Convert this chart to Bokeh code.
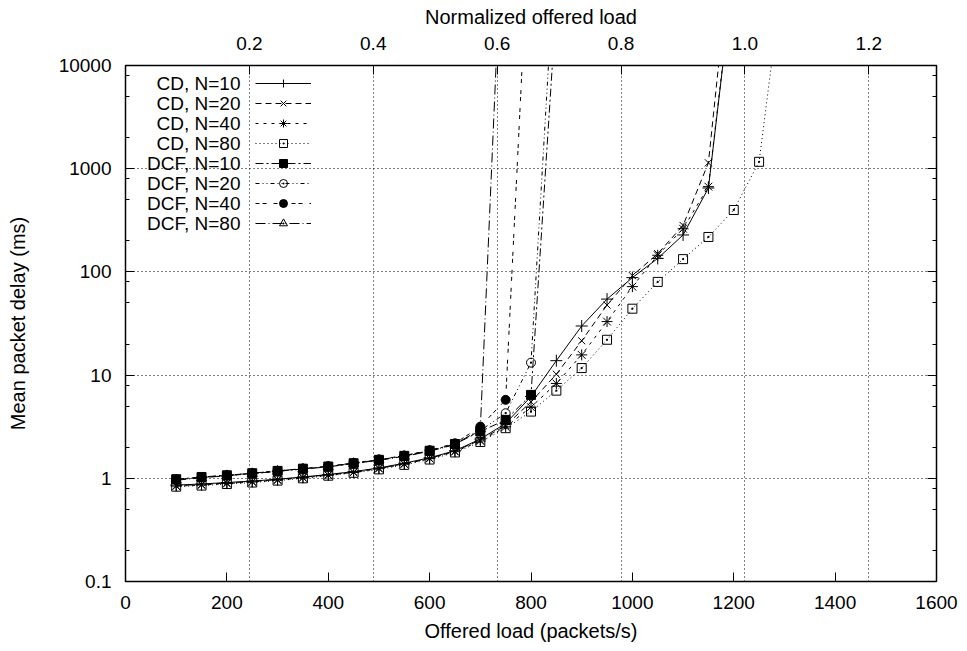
from bokeh.plotting import figure
from bokeh.models import (Range1d, LinearAxis, LogAxis, FixedTicker, Grid, Legend,
                          LegendItem, Label, NumeralTickFormatter, CustomJSTickFormatter)
from bokeh.core.properties import value
from bokeh.embed import file_html
from bokeh.resources import INLINE

# ---------------- data ----------------
loads_cd = [100, 150, 200, 250, 300, 350, 400, 450, 500, 550, 600, 650, 700, 750,
            800, 850, 900, 950, 1000, 1050, 1100, 1150, 1200]
loads_cd80 = [100, 150, 200, 250, 300, 350, 400, 450, 500, 550, 600, 650, 700, 750,
              800, 850, 900, 950, 1000, 1050, 1100, 1150, 1200, 1250, 1300]
loads_dcf10 = [100, 150, 200, 250, 300, 350, 400, 450, 500, 550, 600, 650, 700, 750, 800, 850]
loads_dcf20 = [100, 150, 200, 250, 300, 350, 400, 450, 500, 550, 600, 650, 700, 750, 800, 850]
loads_dcf40 = [100, 150, 200, 250, 300, 350, 400, 450, 500, 550, 600, 650, 700, 750, 800]
loads_dcf80 = [100, 150, 200, 250, 300, 350, 400, 450, 500, 550, 600, 650, 700, 750]

cd_n10 = [0.86, 0.88, 0.91, 0.94, 0.98, 1.03, 1.09, 1.16, 1.26, 1.40, 1.58, 1.85, 2.40,
          3.40, 6.20, 13.8, 29.9, 54.5, 88, 135, 228, 650, 80000]
cd_n20 = [0.85, 0.87, 0.90, 0.93, 0.97, 1.02, 1.08, 1.15, 1.25, 1.38, 1.56, 1.83, 2.35,
          3.25, 5.5, 10.2, 21.5, 47.7, 92, 150, 282, 1140, 260000]
cd_n40 = [0.84, 0.86, 0.89, 0.92, 0.96, 1.01, 1.07, 1.14, 1.24, 1.37, 1.55, 1.81, 2.30,
          3.15, 4.89, 8.3, 15.7, 33, 72, 145, 262, 670, 84000]
cd_n80 = [0.83, 0.85, 0.88, 0.91, 0.95, 1.00, 1.06, 1.13, 1.22, 1.35, 1.52, 1.78, 2.25,
          3.06, 4.43, 7.07, 11.7, 22.0, 44, 80, 133, 218, 398, 1166, 100000]
dcf_n10 = [0.98, 1.03, 1.07, 1.12, 1.18, 1.24, 1.30, 1.40, 1.51, 1.65, 1.85, 2.15, 2.84,
           3.68, 6.43, 40000]
dcf_n20 = [0.97, 1.02, 1.06, 1.11, 1.17, 1.23, 1.30, 1.39, 1.50, 1.64, 1.84, 2.14, 2.90,
           4.27, 13.2, 200000]
dcf_n40 = [0.97, 1.02, 1.07, 1.12, 1.18, 1.24, 1.31, 1.41, 1.52, 1.66, 1.87, 2.18, 3.17,
           5.76, 540000]
dcf_n80 = [0.96, 1.01, 1.06, 1.11, 1.17, 1.23, 1.29, 1.39, 1.50, 1.63, 1.83, 2.12, 3.00,
           1400000]

series_names = ["CD, N=10", "CD, N=20", "CD, N=40", "CD, N=80",
                "DCF, N=10", "DCF, N=20", "DCF, N=40", "DCF, N=80"]

x_ticks = [0, 200, 400, 600, 800, 1000, 1200, 1400, 1600]
y_ticks = [0.1, 1, 10, 100, 1000, 10000]
y_tick_labels = ["0.1", "1", "10", "100", "1000", "10000"]
y_minor = [0.2, 0.5, 0.8, 2, 5, 8, 20, 50, 80, 200, 500, 800, 2000, 5000, 8000]
norm_ticks = [0.2, 0.4, 0.6, 0.8, 1.0, 1.2]
capacity = 1222  # packets/s corresponding to normalized load 1.0

FONT = "Liberation Sans"
FS = "19px"
FS_TITLE = "20px"

# ---------------- figure ----------------
p = figure(width=960, height=645, x_range=Range1d(0, 1600), y_range=Range1d(0.1, 10000),
           y_axis_type="log", output_backend="svg", toolbar_location=None,
           min_border_left=125, min_border_right=24, min_border_top=65, min_border_bottom=64)
p.extra_x_ranges = {"norm": Range1d(0, 1600 / capacity)}
p.outline_line_color = "black"
p.outline_line_width = 1.5
p.background_fill_color = "white"


def style_axis(ax, minor=True):
    ax.axis_line_color = None
    ax.major_tick_in = 9
    ax.major_tick_out = 0
    ax.major_tick_line_color = "black"
    ax.major_tick_line_width = 1
    if minor:
        ax.minor_tick_in = 4
        ax.minor_tick_out = 0
        ax.minor_tick_line_color = "black"
    else:
        ax.minor_tick_line_color = None
    ax.major_label_text_font = FONT
    ax.major_label_text_font_size = FS
    ax.major_label_text_color = "black"
    ax.axis_label_text_font = FONT
    ax.axis_label_text_font_size = FS_TITLE
    ax.axis_label_text_font_style = "normal"
    ax.axis_label_text_color = "black"


xb = p.xaxis[0]
xb.ticker = FixedTicker(ticks=x_ticks)
xb.axis_label = "Offered load (packets/s)"
style_axis(xb, minor=False)
xb.major_label_standoff = 14
xb.axis_label_standoff = 8

yl = p.yaxis[0]
yl.ticker = FixedTicker(ticks=y_ticks, minor_ticks=y_minor)
yl.major_label_overrides = {t: s for t, s in zip(y_ticks, y_tick_labels)}
yl.axis_label = "Mean packet delay (ms)"
style_axis(yl)
yl.major_label_standoff = 14
yl.axis_label_standoff = 27

yr = LogAxis(ticker=FixedTicker(ticks=y_ticks, minor_ticks=y_minor),
             formatter=CustomJSTickFormatter(code="return ''"))
style_axis(yr)
yr.major_label_text_color = None
yr.major_label_standoff = 0
p.add_layout(yr, "right")

xt = LinearAxis(x_range_name="norm", ticker=FixedTicker(ticks=norm_ticks),
                formatter=NumeralTickFormatter(format="0.0"),
                axis_label="Normalized offered load")
style_axis(xt, minor=False)
xt.major_label_standoff = 16
xt.axis_label_standoff = 6
p.add_layout(xt, "above")

# grids: vertical from normalized ticks, horizontal from decades
p.xgrid.visible = False
p.ygrid.ticker = FixedTicker(ticks=y_ticks)
p.ygrid.grid_line_color = "black"
p.ygrid.grid_line_dash = "1 3"
p.ygrid.grid_line_width = 1
vgrid = Grid(dimension=0, ticker=FixedTicker(ticks=norm_ticks), x_range_name="norm",
             grid_line_color="black", grid_line_dash="1 3", grid_line_width=1)
p.add_layout(vgrid, "center")

# ---------------- series ----------------
series = [
    (loads_cd, cd_n10, "cross", "solid", 12, None),
    (loads_cd, cd_n20, "x", "6 4", 10, None),
    (loads_cd, cd_n40, "asterisk", "3 5", 11, None),
    (loads_cd80, cd_n80, "square_dot", "1 3", 9, None),
    (loads_dcf10, dcf_n10, "square", "8 3 2 3", 9, "black"),
    (loads_dcf20, dcf_n20, "circle_dot", "4 3 1 3 1 3", 9, None),
    (loads_dcf40, dcf_n40, "circle", "4 3 4 7", 9, "black"),
    (loads_dcf80, dcf_n80, "triangle_dot", "10 3 1 3", 10, None),
]

items = []
for (xs, ys, marker, dash, size, fill), name in zip(series, series_names):
    lr = p.line(xs, ys, line_color="black", line_width=1, line_dash=dash)
    sr = p.scatter(xs, ys, marker=marker, size=size, line_color="black", line_width=1,
                   fill_color=fill)
    items.append(LegendItem(label=value(name), renderers=[lr, sr]))

# legend: sample glyphs (right) + right-aligned texts (left), gnuplot style
leg_x = 130      # screen px from frame left
row_h = 20
leg_top = 508    # screen px from frame bottom (top edge of the legend block)
leg_bottom = leg_top - row_h * len(series_names)
legend = Legend(items=items, location=(leg_x, leg_bottom), glyph_width=56,
                glyph_height=row_h, label_height=row_h, label_standoff=0, spacing=0,
                padding=0, margin=0, border_line_color=None, background_fill_alpha=0,
                label_text_font_size="8px", label_text_color=None)
p.add_layout(legend, "center")

for i, name in enumerate(series_names):
    p.add_layout(Label(x=leg_x - 15, y=leg_top - row_h / 2 - i * row_h, x_units="screen",
                       y_units="screen", text=name, text_align="right",
                       text_baseline="middle", text_font=FONT, text_font_size=FS,
                       text_color="black"))

open("out.html", "w").write(file_html(p, INLINE))
